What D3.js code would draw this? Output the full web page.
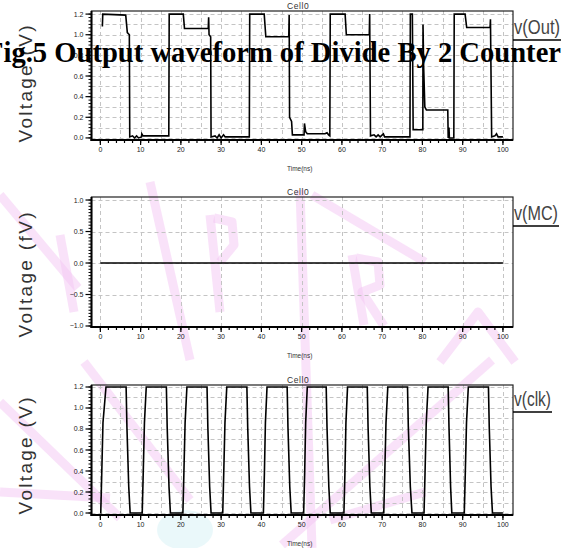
<!DOCTYPE html>
<html>
<head>
<meta charset="utf-8">
<script src="https://cdn.jsdelivr.net/npm/d3@7"></script>
<style>
body { margin: 0; background: #fff; }
svg { display: block; }
</style>
</head>
<body>
<svg id="chart" width="564" height="548"></svg>
<script>
// ---- data (time in ns, voltage) ----
let xTicks = [0, 10, 20, 30, 40, 50, 60, 70, 80, 90, 100];
let outTicks = [0.0, 0.2, 0.4, 0.6, 0.8, 1.0, 1.2];
let mcTicks = [-1.0, -0.5, 0.0, 0.5, 1.0];
let clkTicks = [0.0, 0.2, 0.4, 0.6, 0.8, 1.0, 1.2];

// v(Out)  [time, volt]
let outWave = [
  [0.5,1.08],[0.6,1.2],[6.3,1.19],[6.7,1.02],[7.2,1.0],[7.3,0.01],[8.0,0.02],[8.5,0.0],
  [9.0,0.02],[9.5,0.0],[10.2,0.01],[10.3,0.04],[10.6,0.02],[17.0,0.02],[17.1,1.2],[20.6,1.2],
  [20.9,1.06],[26.8,1.06],[26.9,1.17],[27.0,1.0],[27.4,0.98],[27.5,0.01],[28.5,0.02],[29.0,0.0],
  [29.5,0.03],[30.0,0.0],[30.6,0.03],[31.0,0.01],[37.0,0.01],[37.1,1.2],[40.7,1.2],[41.1,0.98],
  [46.8,0.98],[46.9,1.19],[47.0,0.2],[47.5,0.16],[47.7,0.03],[50.6,0.03],[50.7,0.14],[51.0,0.06],
  [51.4,0.04],[55.8,0.04],[56.3,0.05],[56.7,0.03],[57.0,0.02],[57.1,1.2],[60.8,1.2],[61.1,1.0],
  [66.8,1.0],[66.9,1.2],[67.1,0.02],[68.0,0.03],[68.5,0.01],[69.0,0.03],[69.5,0.01],[70.3,0.04],
  [70.6,0.01],[76.9,0.01],[77.0,1.2],[77.5,1.2],[77.7,0.08],[80.1,0.08],[80.15,1.1],[80.3,0.7],
  [80.6,0.3],[81.0,0.27],[86.3,0.27],[86.4,0.0],[86.6,0.1],[86.7,0.0],[87.8,0.0],[87.9,1.2],
  [90.6,1.2],[91.0,1.07],[96.8,1.07],[96.9,1.15],[97.2,0.01],[98.0,0.02],[98.4,0.04],[98.8,0.01],
  [100,0.01]
];

// v(MC)  [time, fV]
let mcWave = [[0, 0], [100, 0]];

// v(clk)  [time, volt]
let clkWave = [
  [0,0],[0.1,0],[0.35,0.38],[0.65,0.86],[1.4,1.2],
  [6.4,1.2],[6.6,0.82],[7.05,0.25],[7.4,0],
  [10.4,0],[10.65,0.38],[10.95,0.86],[11.4,1.2],
  [16.4,1.2],[16.6,0.82],[17.05,0.25],[17.4,0],
  [20.5,0],[20.75,0.38],[21.05,0.86],[21.5,1.2],
  [26.5,1.2],[26.7,0.82],[27.15,0.25],[27.5,0],
  [30.4,0],[30.65,0.38],[30.95,0.86],[31.4,1.2],
  [36.4,1.2],[36.6,0.82],[37.05,0.25],[37.4,0],
  [40.5,0],[40.75,0.38],[41.0,0.86],[41.4,1.2],
  [46.4,1.2],[46.6,0.82],[47.05,0.25],[47.4,0],
  [50.5,0],[50.75,0.38],[51.0,0.86],[51.4,1.2],
  [56.1,1.2],[56.3,0.82],[56.75,0.25],[57.1,0],
  [60.5,0],[60.75,0.38],[61.0,0.86],[61.4,1.2],
  [66.3,1.2],[66.5,0.82],[66.95,0.25],[67.3,0],
  [70.4,0],[70.65,0.38],[70.95,0.86],[71.4,1.2],
  [76.3,1.2],[76.5,0.82],[77.0,0.25],[77.4,0],
  [80.4,0],[80.65,0.38],[80.95,0.86],[81.4,1.2],
  [86.4,1.2],[86.6,0.82],[87.0,0.25],[87.3,0],
  [90.4,0],[90.65,0.38],[90.95,0.86],[91.4,1.2],
  [96.4,1.2],[96.6,0.82],[97.05,0.25],[97.4,0],
  [100,0]
];

let legendNames = ["v(Out)", "v(MC)", "v(clk)"];
let yLabels = ["Voltage (V)", "Voltage (fV)", "Voltage (V)"];
let titleText = "Fig.5 Output waveform of Divide By 2 Counter";

// ---- layout ----
let svg = d3.select("#chart");

let panels = [
  {wave: outWave, ticks: outTicks, top: 11, bottom: 140, yDomain: [-0.02, 1.23], gridStep: 0.1, minorStep: 0.2/6,
   xGrid: 5, label: yLabels[0], labelY: 84, labelLen: 117, legend: legendNames[0], legendW: 46, legendLine: 40},
  {wave: mcWave, ticks: mcTicks, top: 197, bottom: 327, yDomain: [-1.016, 1.048], gridStep: 0.5, minorStep: 0.05,
   xGrid: 10, label: yLabels[1], labelY: 275, labelLen: 125, legend: legendNames[1], legendW: 44, legendLine: 226},
  {wave: clkWave, ticks: clkTicks, top: 385, bottom: 515, yDomain: [-0.019, 1.219], gridStep: 0.1, minorStep: 0.2/6,
   xGrid: 5, label: yLabels[2], labelY: 456, labelLen: 117, legend: legendNames[2], legendW: 37, legendLine: 412}
];

let left = 91.5, right = 513;

// faint watermark (letters and strokes of a logo) behind everything
let watermark = svg.append("g").attr("fill", "none").attr("stroke", "#f3c6f3")
  .attr("stroke-opacity", 0.5).attr("stroke-linecap", "butt").attr("stroke-linejoin", "round");
let wmLines = [
  [[0,195],[78,288]], [[60,235],[74,312]], [[150,182],[190,360]],
  [[210,215],[220,312]], [[214,218],[232,222],[234,245],[220,262]],
  [[312,195],[425,262]], [[352,255],[364,325]], [[356,258],[378,262],[380,285],[362,292],[384,326]],
  [[440,362],[478,312],[515,362]],
  [[84,362],[190,500]], [[0,402],[120,518]], [[0,492],[110,498]], [[282,545],[492,360]],
  [[330,520],[425,492]], [[300,190],[312,548]]
];
wmLines.forEach(pts => watermark.append("path")
  .attr("d", d3.line()(pts)).attr("stroke-width", 9));
svg.append("ellipse").attr("cx", 185).attr("cy", 530).attr("rx", 28).attr("ry", 20)
  .attr("fill", "#d8f2f6").attr("opacity", 0.55);

panels.forEach(drawPanel);

function drawPanel(p) {
  let x = d3.scaleLinear().domain([-2.2, 102.5]).range([left, right]);
  let y = d3.scaleLinear().domain(p.yDomain).range([p.bottom, p.top]);
  let g = svg.append("g");

  // dashed grid
  let yGrid = d3.range(p.ticks[0], p.ticks[p.ticks.length - 1] + 1e-6, p.gridStep);
  g.selectAll(".hg").data(yGrid).join("line")
    .attr("x1", left).attr("x2", right)
    .attr("y1", d => Math.round(y(d)) + 0.5).attr("y2", d => Math.round(y(d)) + 0.5)
    .attr("stroke", "#c4c4c4").attr("stroke-dasharray", "4,3");
  g.selectAll(".vg").data(d3.range(0, 100.1, p.xGrid)).join("line")
    .attr("x1", d => Math.round(x(d)) + 0.5).attr("x2", d => Math.round(x(d)) + 0.5)
    .attr("y1", p.top).attr("y2", p.bottom)
    .attr("stroke", "#c4c4c4").attr("stroke-dasharray", "4,3");

  // waveform
  g.append("path").datum(p.wave)
    .attr("d", d3.line().x(d => x(d[0])).y(d => y(d[1])))
    .attr("fill", "none").attr("stroke", "#000").attr("stroke-width", 1.6);

  // frame
  g.append("rect").attr("x", left).attr("y", p.top)
    .attr("width", right - left).attr("height", p.bottom - p.top)
    .attr("fill", "none").attr("stroke", "#222").attr("stroke-width", 1.2);
  g.append("line").attr("x1", left).attr("x2", left).attr("y1", p.top).attr("y2", p.bottom + 1)
    .attr("stroke", "#000").attr("stroke-width", 2);
  g.append("line").attr("x1", left - 1).attr("x2", right).attr("y1", p.bottom).attr("y2", p.bottom)
    .attr("stroke", "#000").attr("stroke-width", 2);

  // y axis ticks
  let minor = d3.range(p.ticks[0], p.ticks[p.ticks.length - 1] + 1e-6, p.minorStep);
  g.selectAll(".ym").data(minor).join("line")
    .attr("x1", left - 3).attr("x2", left)
    .attr("y1", d => y(d)).attr("y2", d => y(d))
    .attr("stroke", "#000").attr("stroke-width", 1);
  g.selectAll(".yM").data(p.ticks).join("line")
    .attr("x1", left - 6).attr("x2", left)
    .attr("y1", d => y(d)).attr("y2", d => y(d))
    .attr("stroke", "#000").attr("stroke-width", 1.2);
  g.selectAll(".yl").data(p.ticks).join("text")
    .attr("x", left - 8).attr("y", d => y(d) + 2.5)
    .attr("text-anchor", "end")
    .attr("font-family", "Liberation Sans, Arial, sans-serif").attr("font-size", 7)
    .attr("fill", "#222")
    .text(d => d3.format(".1f")(d));

  // x axis ticks
  g.selectAll(".xm").data(d3.range(0, 100.1, 2)).join("line")
    .attr("x1", d => x(d)).attr("x2", d => x(d))
    .attr("y1", p.bottom).attr("y2", p.bottom + 3)
    .attr("stroke", "#000").attr("stroke-width", 1.2);
  g.selectAll(".xM").data(xTicks).join("line")
    .attr("x1", d => x(d)).attr("x2", d => x(d))
    .attr("y1", p.bottom).attr("y2", p.bottom + 5)
    .attr("stroke", "#000").attr("stroke-width", 1.2);
  g.selectAll(".xl").data(xTicks).join("text")
    .attr("x", d => x(d)).attr("y", p.bottom + 12)
    .attr("text-anchor", "middle")
    .attr("font-family", "Liberation Sans, Arial, sans-serif").attr("font-size", 7)
    .attr("fill", "#222")
    .text(d => d);

  // small captions
  g.append("text").attr("x", 287).attr("y", p.top - 2)
    .attr("font-family", "Liberation Sans, Arial, sans-serif").attr("font-size", 8.5)
    .attr("fill", "#333").attr("letter-spacing", 0.6).text("Cell0");
  g.append("text").attr("x", 287).attr("y", p.bottom + 31)
    .attr("font-family", "Liberation Sans, Arial, sans-serif").attr("font-size", 6.5)
    .attr("fill", "#333").text("Time(ns)");

  // y axis title
  g.append("text")
    .attr("transform", `translate(32,${p.labelY}) rotate(-90)`)
    .attr("text-anchor", "middle")
    .attr("font-family", "Liberation Sans, Arial, sans-serif").attr("font-size", 19)
    .attr("fill", "#333")
    .attr("textLength", p.labelLen).attr("lengthAdjust", "spacing")
    .text(p.label);

  // legend
  g.append("text").attr("x", 514).attr("y", p.legendLine - 6)
    .attr("font-family", "Liberation Sans, Arial, sans-serif").attr("font-size", 20)
    .attr("fill", "#444")
    .attr("textLength", p.legendW).attr("lengthAdjust", "spacingAndGlyphs")
    .text(p.legend);
  g.append("line").attr("x1", 513).attr("x2", 514 + p.legendW + 1)
    .attr("y1", p.legendLine).attr("y2", p.legendLine)
    .attr("stroke", "#000").attr("stroke-width", 1.5);
}

// overlaid figure caption
svg.append("text").attr("x", -14).attr("y", 62)
  .attr("font-family", "Liberation Serif, Times New Roman, serif")
  .attr("font-weight", "bold").attr("font-size", 28.6)
  .attr("fill", "#000")
  .text(titleText);
</script>
</body>
</html>
